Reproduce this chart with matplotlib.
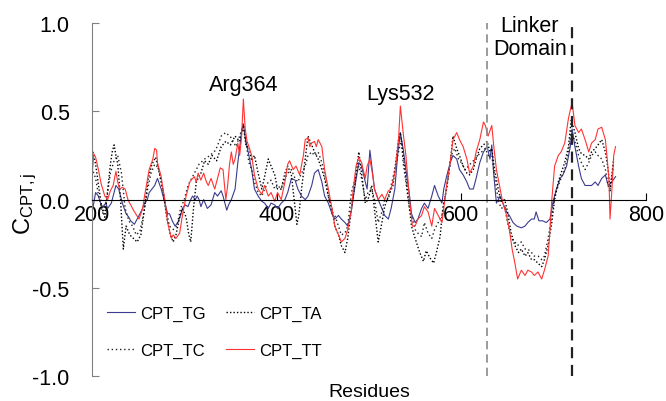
import numpy as np
import matplotlib
matplotlib.use('Agg')
import matplotlib.pyplot as plt

plt.rcParams['font.family'] = ['Liberation Sans', 'DejaVu Sans']
plt.rcParams['mathtext.fontset'] = 'custom'
plt.rcParams['mathtext.rm'] = 'Liberation Sans'
plt.rcParams['mathtext.it'] = 'Liberation Sans'

# ====> values (residue, C value)
tg_res = [200, 202, 204, 207, 210, 212, 215, 217, 221, 224, 226, 229, 233, 237, 240, 242, 246, 250, 254, 257,
          260, 262, 265, 268, 271, 275, 279, 282, 284, 287, 290, 293, 296, 298, 301, 304, 307, 309, 312, 314,
          316, 318, 321, 325, 329, 333, 336, 340, 342, 344, 346, 348, 351, 355, 358, 362, 364, 366, 370, 373,
          376, 380, 384, 387, 391, 394, 398, 401, 405, 409, 412, 416, 420, 423, 427, 431, 434, 438, 441, 445,
          449, 452, 456, 460, 463, 467, 470, 474, 477, 481, 485, 489, 492, 496, 498, 501, 503, 506, 510, 514,
          517, 521, 524, 528, 531, 534, 537, 540, 544, 546, 550, 553, 557, 560, 564, 568, 571, 575, 579, 581,
          584, 588, 591, 595, 598, 602, 606, 609, 613, 616, 620, 624, 628, 631, 633, 635, 638, 642, 645, 649,
          652, 656, 660, 665, 669, 672, 676, 679, 681, 684, 688, 692, 696, 699, 703, 707, 710, 714, 718, 720,
          723, 727, 730, 734, 738, 741, 745, 748, 752, 756, 759, 763, 767]
tg_val = [-0.08, -0.02, 0.04, 0.02, -0.03, -0.04, -0.02, -0.05, -0.02, 0.04, 0.08, 0.06, -0.02, -0.08, -0.10, -0.12, -0.14, -0.10, -0.06, -0.02,
          0.00, 0.04, 0.06, 0.08, 0.12, 0.06, -0.02, -0.08, -0.08, -0.12, -0.15, -0.13, -0.09, -0.05, -0.03, -0.04, 0.00, 0.02, 0.00, 0.02,
          0.00, -0.04, 0.00, -0.05, -0.03, 0.04, 0.02, 0.05, 0.02, -0.02, -0.06, -0.03, 0.00, 0.06, 0.21, 0.38, 0.43, 0.35, 0.25, 0.17,
          0.06, 0.02, -0.01, -0.02, -0.05, -0.02, -0.03, -0.05, -0.02, 0.00, 0.04, 0.12, 0.11, 0.06, 0.02, 0.00, 0.02, 0.08, 0.15, 0.17,
          0.10, 0.02, -0.02, -0.08, -0.11, -0.09, -0.11, -0.13, -0.15, -0.06, 0.08, 0.21, 0.19, 0.10, 0.06, 0.28, 0.19, 0.06, 0.00, -0.05,
          -0.09, -0.11, -0.05, 0.06, 0.25, 0.38, 0.29, 0.17, 0.02, -0.08, -0.13, -0.11, -0.05, -0.02, -0.05, 0.02, 0.08, 0.02, -0.02, 0.06,
          0.13, 0.21, 0.25, 0.23, 0.17, 0.14, 0.10, 0.06, 0.06, 0.12, 0.21, 0.27, 0.30, 0.23, 0.31, 0.15, -0.02, 0.02, -0.02, -0.07,
          -0.09, -0.13, -0.15, -0.16, -0.15, -0.13, -0.11, -0.11, -0.07, -0.12, -0.12, -0.13, -0.11, -0.02, 0.06, 0.12, 0.14, 0.19, 0.30, 0.40,
          0.30, 0.19, 0.12, 0.08, 0.08, 0.08, 0.10, 0.08, 0.12, 0.14, 0.08, 0.10, 0.13]

ta_res = [200, 202, 204, 208, 211, 214, 217, 220, 222, 224, 226, 228, 231, 234, 237, 241, 245, 249, 253, 257,
          261, 265, 269, 273, 277, 281, 285, 288, 291, 295, 298, 302, 305, 307, 310, 313, 318, 322, 326, 330,
          335, 340, 345, 350, 355, 360, 364, 367, 370, 373, 376, 380, 384, 387, 391, 394, 398, 401, 405, 409,
          412, 416, 419, 422, 424, 427, 431, 434, 438, 441, 445, 449, 452, 456, 460, 463, 467, 470, 474, 477,
          481, 485, 489, 492, 496, 499, 503, 506, 510, 514, 517, 521, 526, 532, 534, 537, 540, 544, 546, 550,
          555, 559, 562, 566, 570, 573, 577, 580, 584, 588, 591, 595, 598, 602, 606, 609, 613, 616, 620, 624,
          628, 631, 633, 636, 640, 643, 647, 650, 654, 658, 662, 665, 669, 672, 676, 679, 683, 687, 690, 694,
          698, 701, 705, 708, 712, 716, 719, 723, 727, 730, 734, 738, 741, 745, 748, 752, 756, 759, 761, 763, 765]
ta_val = [0.29, 0.25, 0.20, 0.05, -0.05, -0.10, 0.05, 0.20, 0.27, 0.31, 0.25, 0.20, 0.00, -0.28, -0.15, -0.20, -0.22, -0.24, -0.20, -0.05,
          0.12, 0.20, 0.24, 0.15, 0.05, -0.10, -0.20, -0.24, -0.20, -0.10, -0.05, -0.10, -0.20, -0.24, -0.05, 0.10, 0.15, 0.22, 0.20, 0.25,
          0.22, 0.30, 0.33, 0.31, 0.36, 0.33, 0.42, 0.30, 0.30, 0.22, 0.25, 0.15, 0.06, 0.13, 0.23, 0.19, 0.14, 0.06, 0.06, 0.15,
          0.19, 0.14, 0.00, -0.14, -0.09, 0.06, 0.23, 0.36, 0.31, 0.27, 0.23, 0.17, 0.12, 0.02, -0.05, -0.15, -0.20, -0.26, -0.30, -0.22,
          -0.05, 0.10, 0.27, 0.15, -0.02, 0.00, 0.08, -0.06, -0.24, -0.13, -0.04, 0.02, 0.08, 0.34, 0.38, 0.25, 0.12, -0.05, -0.15, -0.22,
          -0.30, -0.35, -0.29, -0.33, -0.36, -0.30, -0.21, -0.05, 0.06, 0.21, 0.36, 0.29, 0.25, 0.19, 0.15, 0.14, 0.17, 0.23, 0.29, 0.31,
          0.33, 0.27, 0.29, 0.17, 0.06, -0.01, 0.00, -0.07, -0.19, -0.26, -0.30, -0.28, -0.32, -0.30, -0.34, -0.34, -0.36, -0.38, -0.34, -0.26,
          -0.13, 0.00, 0.10, 0.15, 0.21, 0.30, 0.45, 0.38, 0.29, 0.26, 0.25, 0.23, 0.27, 0.29, 0.31, 0.34, 0.27, 0.17, 0.06, 0.14, 0.23]

tc_res = [200, 204, 208, 212, 216, 220, 224, 228, 232, 236, 240, 244, 248, 252, 256, 260, 264, 268, 272, 276,
          280, 284, 288, 292, 296, 300, 304, 308, 312, 316, 322, 328, 334, 340, 345, 351, 356, 360, 364, 367,
          370, 373, 376, 380, 384, 387, 391, 394, 398, 401, 405, 409, 412, 416, 420, 423, 427, 431, 434, 438,
          441, 445, 449, 452, 456, 460, 463, 467, 470, 474, 477, 481, 485, 489, 492, 496, 499, 503, 506, 510,
          514, 517, 521, 524, 528, 532, 535, 537, 540, 544, 546, 550, 553, 557, 560, 564, 568, 571, 575, 579,
          582, 586, 589, 593, 597, 600, 604, 608, 611, 615, 618, 622, 626, 629, 633, 636, 640, 643, 647, 650,
          654, 658, 661, 665, 669, 672, 676, 679, 683, 687, 690, 694, 698, 701, 705, 708, 712, 716, 719, 723,
          727, 730, 734, 738, 741, 745, 748, 752, 756, 759, 761, 763, 765]
tc_val = [0.18, 0.12, 0.00, -0.08, 0.00, 0.15, 0.22, 0.25, 0.15, -0.05, -0.12, -0.15, -0.20, -0.18, -0.08, 0.05, 0.15, 0.20, 0.18, 0.08,
          -0.05, -0.15, -0.17, -0.15, -0.05, 0.00, 0.08, 0.12, 0.16, 0.20, 0.23, 0.25, 0.28, 0.36, 0.38, 0.35, 0.30, 0.36, 0.43, 0.32,
          0.21, 0.17, 0.10, 0.04, 0.02, 0.06, 0.10, 0.11, 0.06, 0.08, 0.06, 0.12, 0.15, 0.17, 0.12, 0.10, 0.15, 0.19, 0.25, 0.27,
          0.25, 0.27, 0.21, 0.14, 0.02, -0.08, -0.09, -0.15, -0.20, -0.19, -0.15, 0.04, 0.12, 0.19, 0.12, 0.00, 0.04, 0.06, 0.00, -0.13,
          -0.07, 0.00, 0.00, 0.08, 0.17, 0.27, 0.34, 0.21, 0.10, -0.06, -0.09, -0.17, -0.19, -0.21, -0.13, -0.19, -0.22, -0.17, -0.13, -0.09,
          0.00, 0.13, 0.25, 0.29, 0.23, 0.21, 0.17, 0.19, 0.21, 0.23, 0.25, 0.27, 0.29, 0.25, 0.25, 0.13, 0.00, -0.05, -0.04, -0.13,
          -0.22, -0.24, -0.26, -0.24, -0.28, -0.28, -0.30, -0.32, -0.32, -0.34, -0.32, -0.22, -0.09, 0.02, 0.08, 0.12, 0.17, 0.27, 0.39, 0.33,
          0.25, 0.21, 0.17, 0.21, 0.25, 0.27, 0.25, 0.23, 0.17, 0.08, 0.04, 0.12, 0.21]

tt_res = [200, 202, 204, 207, 210, 214, 217, 220, 223, 226, 228, 230, 233, 236, 239, 242, 245, 248, 251, 253,
          255, 257, 259, 262, 264, 266, 268, 270, 271, 273, 275, 277, 279, 282, 286, 288, 291, 295, 298, 302,
          306, 309, 311, 313, 315, 318, 321, 324, 326, 329, 331, 333, 336, 339, 342, 345, 347, 349, 351, 353,
          355, 358, 360, 362, 364, 366, 368, 370, 373, 376, 380, 384, 387, 391, 394, 398, 401, 405, 409, 412,
          414, 418, 421, 425, 429, 431, 434, 436, 438, 441, 443, 445, 449, 452, 456, 460, 463, 467, 470, 474,
          477, 481, 483, 486, 489, 492, 496, 498, 501, 504, 506, 510, 514, 517, 521, 524, 528, 532, 534, 537,
          540, 544, 547, 550, 553, 557, 560, 564, 568, 571, 575, 579, 581, 584, 588, 591, 595, 598, 602, 606,
          609, 613, 616, 620, 624, 626, 629, 633, 635, 638, 642, 645, 649, 652, 655, 658, 661, 665, 669, 672,
          676, 679, 683, 687, 690, 694, 696, 698, 701, 705, 708, 712, 716, 719, 720, 723, 727, 730, 734, 738,
          741, 745, 748, 752, 756, 758, 760, 761, 763, 764, 765, 767]
tt_val = [0.12, 0.26, 0.24, 0.17, 0.09, 0.02, 0.00, 0.05, 0.08, 0.16, 0.10, 0.06, 0.07, 0.06, 0.00, -0.03, -0.06, -0.085, -0.11, -0.08,
          -0.05, 0.02, 0.08, 0.17, 0.20, 0.23, 0.29, 0.28, 0.21, 0.17, 0.13, 0.06, 0.00, -0.13, -0.22, -0.20, -0.22, -0.19, -0.09, 0.02,
          0.10, 0.12, 0.13, 0.10, 0.15, 0.11, 0.15, 0.10, 0.08, 0.12, 0.09, 0.06, 0.12, 0.18, 0.17, 0.00, 0.08, 0.20, 0.27, 0.20,
          0.23, 0.32, 0.25, 0.35, 0.57, 0.40, 0.33, 0.30, 0.25, 0.14, 0.06, 0.03, 0.08, 0.02, 0.04, -0.01, 0.04, 0.00, 0.10, 0.20,
          0.22, 0.17, 0.19, 0.14, 0.25, 0.34, 0.35, 0.30, 0.32, 0.33, 0.30, 0.34, 0.30, 0.17, 0.06, -0.05, -0.15, -0.20, -0.24, -0.22,
          -0.17, -0.06, 0.06, 0.19, 0.24, 0.21, 0.12, 0.19, 0.23, 0.14, 0.06, 0.00, 0.03, 0.00, 0.05, 0.06, 0.15, 0.34, 0.53, 0.38,
          0.25, 0.00, -0.15, -0.15, -0.11, -0.09, -0.04, -0.07, -0.15, -0.05, -0.09, -0.13, -0.05, 0.08, 0.21, 0.34, 0.38, 0.34, 0.30, 0.23,
          0.15, 0.19, 0.27, 0.34, 0.44, 0.42, 0.36, 0.42, 0.31, 0.17, 0.06, -0.02, -0.09, -0.17, -0.28, -0.36, -0.45, -0.40, -0.43, -0.40,
          -0.41, -0.43, -0.41, -0.45, -0.40, -0.32, -0.17, 0.00, 0.19, 0.25, 0.27, 0.32, 0.46, 0.53, 0.55, 0.42, 0.38, 0.40, 0.34, 0.27,
          0.32, 0.34, 0.40, 0.41, 0.34, 0.23, 0.10, -0.11, 0.05, 0.15, 0.25, 0.30]

x_ticks = [200, 400, 600, 800]
y_ticks = [-1.0, -0.5, 0.0, 0.5, 1.0]
linker_start = 628
linker_end = 720

fig = plt.figure(figsize=(6.66, 4.02), dpi=100)
ax = fig.add_axes([0.138, 0.062, 0.832, 0.878])

ax.plot(tg_res, tg_val, color='#3b3b8f', lw=0.8, label='CPT_TG')
ax.plot(tc_res, tc_val, color='#222222', lw=1.0, ls=(0, (1, 2)), label='CPT_TC')
ax.plot(ta_res, ta_val, color='black', lw=1.0, ls=(0, (1, 1.5)), label='CPT_TA')
ax.plot(tt_res, tt_val, color='#ff3333', lw=0.8, label='CPT_TT')

# ====> linker domain borders
ax.axvline(linker_start, color='#8a8a8a', lw=1.2, ls=(0, (5, 3)))
ax.axvline(linker_end, color='#222222', lw=1.6, ls=(0, (5, 3)))

ax.set_xlim(200, 800)
ax.set_ylim(-1, 1)
ax.spines['bottom'].set_position(('data', 0))
ax.spines['top'].set_visible(False)
ax.spines['right'].set_visible(False)
ax.spines['left'].set_color('#808080')
ax.spines['bottom'].set_color('black')
ax.set_xticks(x_ticks)
ax.set_yticks(y_ticks)
ax.set_yticklabels(['%.1f' % v for v in y_ticks])
ax.tick_params(axis='x', direction='in', length=5, pad=3, labelsize=15.5, color='black')
ax.tick_params(axis='y', direction='in', length=5, pad=16, labelsize=15.5, color='#808080')

ax.set_ylabel(r'C$_{\mathrm{CPT,j}}$', fontsize=17)
ax.yaxis.set_label_coords(-0.096, 0.49)
ax.set_xlabel('Residues', fontsize=14)
ax.xaxis.set_label_coords(0.5, -0.02)

ax.text(364, 0.65, 'Arg364', fontsize=15.5, ha='center', va='center')
ax.text(534, 0.60, 'Lys532', fontsize=15.5, ha='center', va='center')
ax.text(674, 0.92, 'Linker\nDomain', fontsize=15.5, ha='center', va='center', linespacing=1.15)

ax.legend(ncol=2, frameon=False, loc='lower left', bbox_to_anchor=(0.0, 0.01), fontsize=12,
          handlelength=1.7, handletextpad=0.3, columnspacing=1.2, labelspacing=1.3)

plt.savefig('out.png', dpi=100)
